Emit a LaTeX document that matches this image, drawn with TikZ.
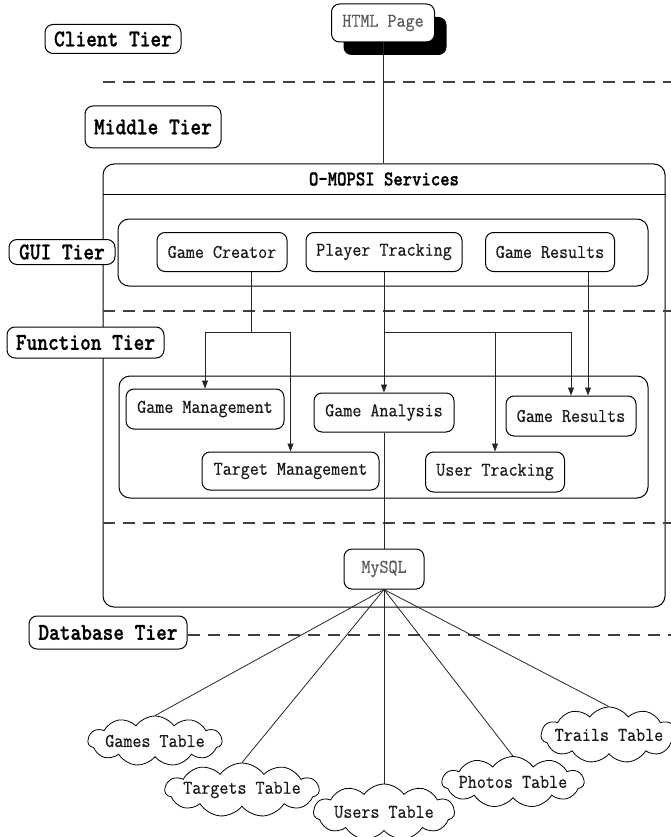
\documentclass[tikz,border=0pt]{standalone}
\usepackage{fontspec}
\newfontfamily\nodefont[FakeStretch=0.9, FakeBold=0.4]{Latin Modern Mono}
\newfontfamily\tierfont[FakeStretch=0.85, FakeBold=1]{lmmonolt10-bold.otf}
\usetikzlibrary{shapes.symbols,arrows.meta,shadows}

\begin{document}
\begin{tikzpicture}[x=1pt,y=-1pt,
  box/.style={draw, line width=1pt, rounded corners=8pt, fill=white, inner sep=0pt,
    font=\nodefont\fontsize{19.5}{20}\selectfont, text=black!90},
  tier/.style={box, font=\tierfont\fontsize{24}{24}\selectfont, text=black},
  group/.style={draw, line width=1pt, rounded corners=11pt, inner sep=0pt},
  sep/.style={dash pattern=on 12pt off 8pt, line width=1.4pt, draw=black!75},
  link/.style={line width=0.8pt, draw=black!85},
  arrow/.style={link, -{Triangle[length=8pt,width=6pt]}},
  dbtable/.style={cloud, draw, line width=0.8pt, cloud puffs=11, cloud puff arc=110,
    inner sep=0pt, fill=white,
    label={[font=\nodefont\fontsize{19.5}{20}\selectfont, text=black!90]center:#1}}
]
\useasboundingbox (0,0) rectangle (671,837);

% middle tier frame with its header
\node[group, minimum width=562pt, minimum height=443pt] (svc) at (384,385.5) {};
\coordinate (hdr) at (0,194);
\draw[line width=1pt] (svc.west |- hdr) -- (svc.east |- hdr);
\node[font=\tierfont\fontsize{21}{21}\selectfont] (svctitle) at (384,179) {O-MOPSI Services};

% inner groups
\node[group, minimum width=530pt, minimum height=67pt] (guigrp) at (383,252.5) {};
\node[group, minimum width=529pt, minimum height=122pt] (fungrp) at (383.5,437) {};

% tier separators
\coordinate (d1a) at (103,82);  \coordinate (d1b) at (671,82);
\coordinate (d2) at (671,311);
\coordinate (d3) at (671,523);
\coordinate (d4) at (671,635);
\draw[sep] (d1a) -- (d1b);
\draw[sep] (svc.west |- d2) -- (d2);
\draw[sep] (svc.west |- d3) -- (d3);

% nodes
\node[box, minimum width=103pt, minimum height=38pt, text=black!65,
  drop shadow={shadow xshift=12pt, shadow yshift=-13pt, fill=black, opacity=1}]
  (html) at (383,23) {HTML Page};

\node[box, minimum width=130pt, minimum height=39pt] (gc) at (222,252) {Game Creator};
\node[box, minimum width=156pt, minimum height=39pt] (pt) at (384,252) {Player Tracking};
\node[box, minimum width=129pt, minimum height=39pt] (gr1) at (550,252) {Game Results};

\node[box, minimum width=158pt, minimum height=40pt] (gm) at (205,409) {Game Management};
\node[box, minimum width=140pt, minimum height=39pt] (ga) at (384,412.5) {Game Analysis};
\node[box, minimum width=130pt, minimum height=40pt] (gr2) at (571,416) {Game Results};
\node[box, minimum width=177pt, minimum height=38pt] (tm) at (290.5,471) {Target Management};
\node[box, minimum width=139pt, minimum height=40pt] (ut) at (495,472) {User Tracking};

\node[box, minimum width=80pt, minimum height=40pt, text=black!65] (mysql) at (384,569) {MySQL};

% tier labels
\node[tier, minimum width=136pt, minimum height=29pt] (client) at (113,39) {Client Tier};
\node[tier, minimum width=136pt, minimum height=42pt] (middle) at (153,127) {Middle Tier};
\node[tier, minimum width=106pt, minimum height=25pt] (gui) at (62,252) {GUI Tier};
\node[tier, minimum width=157pt, minimum height=31pt] (func) at (85.5,342.5) {Function Tier};
\node[tier, minimum width=158pt, minimum height=33pt] (db) at (108,632.5) {Database Tier};
\draw[sep] (db.east |- d4) -- (d4);

% database tables
\node[dbtable=Games Table, minimum width=134pt, minimum height=50pt] (games) at (155,741) {};
\node[dbtable=Targets Table, minimum width=154pt, minimum height=54pt] (targets) at (242,790) {};
\node[dbtable=Users Table, minimum width=141pt, minimum height=56pt] (users) at (384,812) {};
\node[dbtable=Photos Table, minimum width=142pt, minimum height=51pt] (photos) at (513,782) {};
\node[dbtable=Trails Table, minimum width=136pt, minimum height=56pt] (trails) at (609,735) {};

% connectors
\draw[link] (html.south) -- (svc.north -| html.south);

\coordinate (j1) at (251,332);
\coordinate (j2) at (384,332);
\coordinate (k) at (588,0);
\draw[link] (gc.south -| j1) -- (j1);
\draw[arrow] (j1) -| (gm.north);
\draw[arrow] (j1) -| (tm.north);
\draw[arrow] (pt.south) -- (ga.north);
\draw[arrow] (j2) -| (ut.north);
\draw[arrow] (j2) -| (gr2.north);
\draw[arrow] (gr1.south -| k) -- (gr2.north -| k);
\draw[link] (ga.south) -- (mysql.north);

\foreach \t in {games,targets,users,photos,trails}
  \draw[link] (mysql.south) -- (\t.north);
\end{tikzpicture}
\end{document}
